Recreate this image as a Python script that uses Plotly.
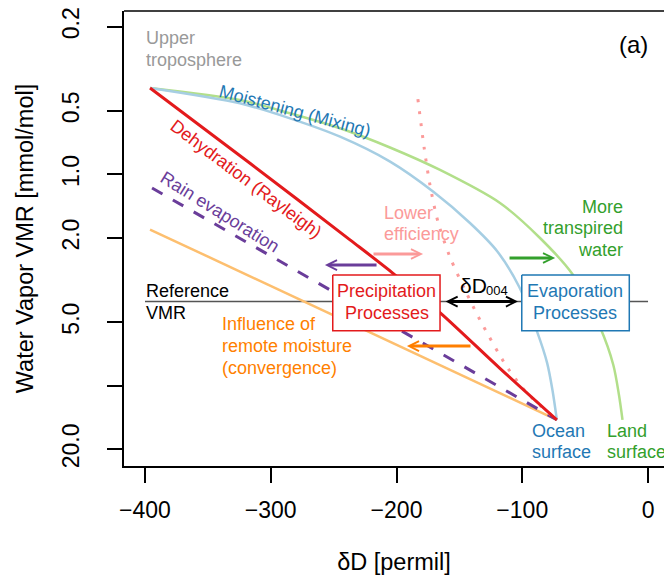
import numpy as np
import plotly.graph_objects as go

# ---------------- data (δD in permil, water vapour VMR in mmol/mol) ----------------
rayleigh_dD = [-396, -316, -237, -203, -165, -118, -72.5]
rayleigh_vmr = [0.39, 0.89, 2.04, 2.93, 4.53, 8.25, 14.5]

ocean_mix_dD = [-396, -324.5, -284.7, -244.9, -205.1, -170.7, -141.6, -120.1, -102.5, -88.5, -80.2, -76.0, -72.5]
ocean_mix_vmr = [0.39, 0.461, 0.543, 0.663, 0.870, 1.208, 1.698, 2.304, 3.40, 5.49, 7.82, 10.48, 14.5]

land_mix_dD = [-396, -324.5, -284.7, -244.9, -205.2, -165.4, -117.7, -85.9, -59.6, -38.2, -27.6, -23.1, -20.3]
land_mix_vmr = [0.39, 0.4445, 0.5137, 0.6049, 0.746, 0.953, 1.366, 2.0, 2.993, 5.28, 7.98, 11.07, 14.5]

low_eff_dD = [-183, -178, -173.4, -167, -157.5, -145.5, -133.6, -112.1, -96.2, -72.5]
low_eff_vmr = [0.44, 0.75, 1.122, 1.68, 2.46, 3.525, 4.89, 8.16, 10.83, 14.5]

rain_evap_dD = [-394.4, -72.5]
rain_evap_vmr = [1.16, 14.5]

remote_dD = [-396, -72.5]
remote_vmr = [1.823, 14.5]

ref_dD = [-400, 0]
ref_vmr = [4.0, 4.0]

x_ticks = [-400, -300, -200, -100, 0]
y_ticks = [0.2, 0.5, 1, 2, 5, 10, 20]
y_ticklabels = ["0.2", "0.5", "1.0", "2.0", "5.0", "", "20.0"]

# process boxes: (δD left, δD right, VMR top, VMR bottom)
precip_box = (-250.7, -165.4, 2.993, 5.49)
evap_box = (-100.4, -14.9, 2.993, 5.49)

# process arrows: (tail δD, head δD, VMR)
arrow_rain = (-214.7, -256.9, 2.685)
arrow_eff = (-219.5, -178.9, 2.381)
arrow_remote = (-140.0, -191.7, 6.49)
arrow_transp = (-111.3, -73.9, 2.487)
arrow_d004 = (-162.2, -103.4, 4.0)

# ---------------- styling ----------------
FONT = "Liberation Sans, Arial, Helvetica, sans-serif"
RED = "#e31a1c"
BLUE_D = "#1f78b4"
BLUE_L = "#a6cee3"
GREEN_D = "#33a02c"
GREEN_L = "#b2df8a"
ORANGE_D = "#ff7f00"
ORANGE_L = "#fdbf6f"
PURPLE = "#6a3d9a"
PINK = "#fb9a99"

fig = go.Figure()

def line(x, y, color, width, dash="solid", shape="linear"):
    fig.add_trace(go.Scatter(x=x, y=y, mode="lines", hoverinfo="skip",
                             line=dict(color=color, width=width, dash=dash, shape=shape,
                                       smoothing=0.8)))

line(ref_dD, ref_vmr, "#555555", 1.5)
line(remote_dD, remote_vmr, ORANGE_L, 2.5)
line(rain_evap_dD, rain_evap_vmr, PURPLE, 3, dash="12px,12px")
line(low_eff_dD, low_eff_vmr, PINK, 3, dash="3px,9px", shape="spline")
line(land_mix_dD, land_mix_vmr, GREEN_L, 2.5, shape="spline")
line(ocean_mix_dD, ocean_mix_vmr, BLUE_L, 2.5, shape="spline")
line(rayleigh_dD, rayleigh_vmr, RED, 3, shape="spline")

for (x0, x1, y0, y1), col in [(precip_box, RED), (evap_box, BLUE_D)]:
    fig.add_trace(go.Scatter(x=[x0, x1, x1, x0, x0], y=[y0, y0, y1, y1, y0],
                             mode="lines", fill="toself", fillcolor="white",
                             hoverinfo="skip", line=dict(color=col, width=1.5)))

ann = []

def label(text, x, v, color, xanchor="center", angle=0, size=18, xshift=0):
    ann.append(dict(text=text, x=x, y=np.log10(v), xref="x", yref="y", showarrow=False,
                    font=dict(color=color, size=size, family=FONT), borderpad=0,
                    xanchor=xanchor, yanchor="middle", textangle=angle, xshift=xshift))

def arrow(spec, color, both=False):
    tail, head, v = spec
    d = dict(text="", x=head, y=np.log10(v), ax=tail, ay=np.log10(v),
             xref="x", yref="y", axref="x", ayref="y", showarrow=True,
             arrowhead=5, arrowsize=0.65, arrowwidth=3, arrowcolor=color,
             standoff=0, startstandoff=0)
    if both:
        d.update(arrowside="end+start", startarrowhead=5, startarrowsize=0.65)
    ann.append(d)

arrow(arrow_rain, PURPLE)
arrow(arrow_eff, PINK)
arrow(arrow_remote, ORANGE_D)
arrow(arrow_transp, GREEN_D)
arrow(arrow_d004, "black", both=True)

label("Upper", -400, 0.226, "#999999", "left")
label("troposphere", -400, 0.286, "#999999", "left")
label("(a)", -11.9, 0.2415, "black", size=24)
label("Moistening (Mixing)", -280.7, 0.4995, BLUE_D, angle=15)
label("Dehydration (Rayleigh)", -319.7, 1.051, RED, angle=37)
label("Rain evaporation", -340.4, 1.501, PURPLE, angle=32)
label("Lower", -210.7, 1.518, PINK, "left")
label("efficiency", -210.7, 1.915, PINK, "left")
label("More", -18.8, 1.422, GREEN_D, "right")
label("transpired", -18.8, 1.803, GREEN_D, "right")
label("water", -18.8, 2.287, GREEN_D, "right")
label("Influence of", -339.8, 5.13, ORANGE_D, "left")
label("remote moisture", -339.8, 6.52, ORANGE_D, "left")
label("(convergence)", -339.8, 8.29, ORANGE_D, "left")
label("Reference", -400.2, 3.56, "black", "left")
label("VMR", -400.2, 4.53, "black", "left")
label("Precipitation", -207.7, 3.545, RED)
label("Processes", -207.7, 4.505, RED)
label("Evaporation", -57.7, 3.545, BLUE_D)
label("Processes", -57.7, 4.505, BLUE_D)
label("δD", -128.0, 3.338, "black", "right", size=21, xshift=1)
label("004", -128.0, 3.525, "black", "left", size=13, xshift=-2)
label("Ocean", -93.3, 16.39, BLUE_D, "left")
label("surface", -93.3, 20.6, BLUE_D, "left")
label("Land", -33.4, 16.39, GREEN_D, "left")
label("surface", -33.4, 20.6, GREEN_D, "left")

fig.update_layout(
    width=664, height=578,
    margin=dict(l=124, r=0, t=11, b=112),
    paper_bgcolor="white", plot_bgcolor="white",
    showlegend=False,
    font=dict(family=FONT, color="black"),
    annotations=ann,
    shapes=[dict(type="line", xref="paper", yref="paper", x0=0, x1=1, y0=1, y1=1,
                 line=dict(color="black", width=1.5))],
)
fig.update_xaxes(
    range=[-416.7, 12.7], tickvals=x_ticks, ticks="outside", ticklen=15, tickwidth=1.5,
    tickcolor="black", showline=True, linecolor="black", linewidth=1.5,
    showgrid=False, zeroline=False, tickfont=dict(size=23), ticklabelstandoff=8,
    title=dict(text="δD [permil]", font=dict(size=23.5), standoff=31),
)
fig.update_yaxes(
    type="log", range=[1.380, -0.7733], tickvals=y_ticks, ticktext=y_ticklabels,
    tickangle=-90, ticks="outside", ticklen=15, tickwidth=1.5, tickcolor="black",
    showline=True, linecolor="black", linewidth=1.5, showgrid=False, zeroline=False,
    tickfont=dict(size=23), ticklabelstandoff=19,
    title=dict(text="Water Vapor VMR [mmol/mol]", font=dict(size=23.5), standoff=18),
)

fig.write_html("out.html")
